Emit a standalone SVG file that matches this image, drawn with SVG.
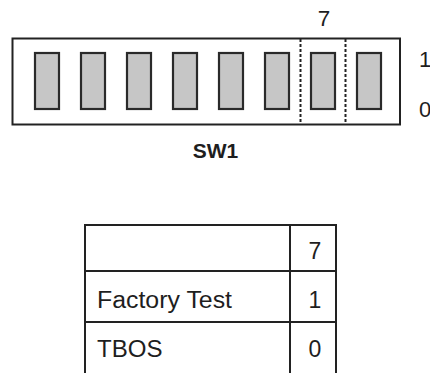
<svg xmlns="http://www.w3.org/2000/svg" width="430" height="373" viewBox="0 0 430 373">
<style>
.t{font-family:"Liberation Sans",Arial,sans-serif;fill:#1e1e1e}
.sw{fill:#c6c6c6;stroke:#2a2a2a;stroke-width:2.2}
.ln{stroke:#222;stroke-width:2;fill:none}
.dash{stroke:#222;stroke-width:2;stroke-dasharray:3,2;fill:none}
</style>
<rect width="430" height="373" fill="#fff"/>
<g id="switch-block">
<rect class="ln" x="12.5" y="38.5" width="387.5" height="86"/>
<rect class="sw" x="35" y="53" width="24" height="56"/>
<rect class="sw" x="81" y="53" width="24" height="56"/>
<rect class="sw" x="127" y="53" width="24" height="56"/>
<rect class="sw" x="173" y="53" width="24" height="56"/>
<rect class="sw" x="219" y="53" width="24" height="56"/>
<rect class="sw" x="265" y="53" width="24" height="56"/>
<rect class="sw" x="311" y="53" width="24" height="56"/>
<rect class="sw" x="357" y="53" width="24" height="56"/>
<line class="dash" x1="300.5" y1="39" x2="300.5" y2="124"/>
<line class="dash" x1="345.5" y1="39" x2="345.5" y2="124"/>
</g>
<g id="labels">
<text class="t" x="324" y="26" font-size="22.5" text-anchor="middle">7</text>
<text class="t" x="419" y="67" font-size="22">1</text>
<text class="t" x="419" y="117" font-size="22">0</text>
<text class="t" x="215.5" y="157.5" font-size="21" font-weight="bold" text-anchor="middle">SW1</text>
</g>
<g id="table">
<path class="ln" d="M85,373 V225 H336 V373 M290,225 V373 M85,271 H336 M85,322 H336"/>
<text class="t" x="315" y="259" font-size="23" text-anchor="middle">7</text>
<text class="t" x="97" y="307.5" font-size="23" textLength="135" lengthAdjust="spacingAndGlyphs">Factory Test</text>
<text class="t" x="315" y="307.5" font-size="23" text-anchor="middle">1</text>
<text class="t" x="97" y="356.5" font-size="23" textLength="65.5" lengthAdjust="spacingAndGlyphs">TBOS</text>
<text class="t" x="315" y="356.5" font-size="23" text-anchor="middle">0</text>
</g>
</svg>
